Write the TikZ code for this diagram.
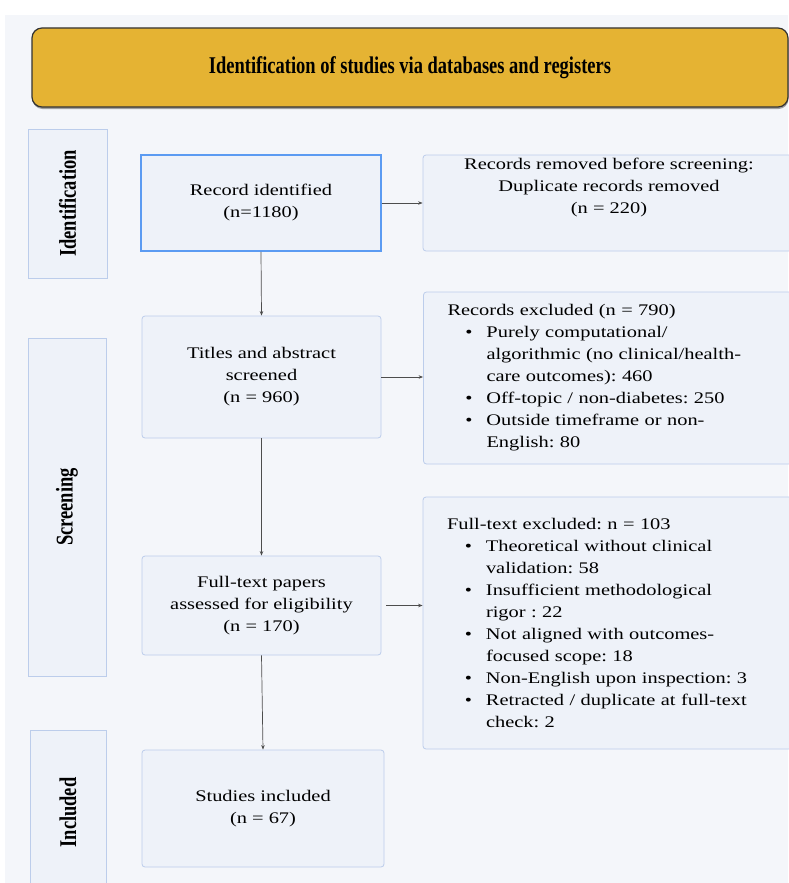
\documentclass[tikz,border=0pt]{standalone}
\usepackage{fontspec}
\setmainfont{Liberation Serif}
\newfontfamily\bodyfont[FakeStretch=1.26]{Liberation Serif}
\newfontfamily\narrowfont[FakeStretch=0.77]{Liberation Serif}
\usepackage{xcolor}
\usetikzlibrary{positioning,arrows.meta,shadows}
\frenchspacing
\definecolor{panel}{HTML}{F4F6FA}
\definecolor{boxfill}{HTML}{EEF2F9}
\definecolor{boxline}{HTML}{BCCDEB}
\definecolor{keyline}{HTML}{5B9BF2}
\definecolor{gold}{HTML}{E5B333}
\definecolor{arrowc}{HTML}{4D4D4D}
\newcommand{\listpt}[1]{\makebox[39pt][r]{\textbullet\hspace{14pt}}#1}
\newcommand{\listcont}[1]{\hspace*{39pt}#1}
\tikzset{
  header/.style={draw=black!80, fill=gold, line width=1.2pt, rounded corners=10pt,
    minimum width=756pt, minimum height=79pt,
    font=\narrowfont\bfseries\fontsize{24}{26}\selectfont,
    drop shadow={shadow xshift=0.5pt, shadow yshift=-2pt, fill=black!60, opacity=0.6}},
  phase/.style={draw=boxline, fill=boxfill, line width=0.8pt, rotate=90,
    font=\narrowfont\bfseries\fontsize{24}{26}\selectfont},
  box/.style={draw=boxline, fill=boxfill, line width=0.8pt, rounded corners=3pt,
    align=center, font=\bodyfont\fontsize{16.2}{22}\selectfont},
  keybox/.style={box, draw=keyline, line width=1.8pt, sharp corners},
  listbox/.style={box, align=left, inner xsep=24pt, text width=324pt},
  lab/.style={inner sep=0pt, align=center, font=\bodyfont\fontsize{16.2}{22}\selectfont},
  arr/.style={draw=arrowc, line width=0.7pt, -{Stealth[length=4.5pt,width=3.5pt]}},
}
\begin{document}
\begin{tikzpicture}[x=1pt,y=-1pt]
  \useasboundingbox (0,0) rectangle (788,883);
  \fill[panel] (5,15) rectangle (788,883);
  % title bar
  \node[header] (head) at (410,67.5) {Identification of studies via databases and registers};
  % phase labels
  \node[phase, minimum width=149pt, minimum height=79pt] (idlab) at (67.5,203.5) {Identification};
  \node[phase, minimum width=338pt, minimum height=78pt] (scrlab) at (67,507) {Screening};
  \node[phase, minimum width=165pt, minimum height=76pt] (inclab) at (68,812.5) {Included};
  % main column
  \node[keybox, minimum width=240pt, minimum height=96pt] (rec) at (261,203) {Record identified\\(n=1180)};
  \node[box, minimum width=239pt, minimum height=122pt] (titles) at (261.5,377) {Titles and abstract\\screened\\(n = 960)};
  \node[box, minimum width=239pt, minimum height=99pt] (full) at (261.5,605.5) {Full-text papers\\assessed for eligibility\\(n = 170)};
  \node[box, minimum width=242pt, minimum height=117pt] (incl) at (263,808.5) {Studies included\\(n = 67)};
  % side column
  \node[box, minimum width=372pt, minimum height=96pt] (removed) at (609,203) {};
  \node[lab, below=3pt of removed.north] (removedtxt) {Records removed before screening:\\Duplicate records removed\\(n = 220)};
  \node[listbox, minimum height=172pt] (excl) at (609.5,378) {Records excluded (n = 790)\\
    \listpt{Purely computational/}\\
    \listcont{algorithmic (no clinical/health-}\\
    \listcont{care outcomes): 460}\\
    \listpt{Off-topic / non-diabetes: 250}\\
    \listpt{Outside timeframe or non-}\\
    \listcont{English: 80}};
  \node[listbox, minimum height=252pt] (ftexcl) at (609,623) {Full-text excluded: n = 103\\
    \listpt{Theoretical without clinical}\\
    \listcont{validation: 58}\\
    \listpt{Insufficient methodological}\\
    \listcont{rigor : 22}\\
    \listpt{Not aligned with outcomes-}\\
    \listcont{focused scope: 18}\\
    \listpt{Non-English upon inspection: 3}\\
    \listpt{Retracted / duplicate at full-text}\\
    \listcont{check: 2}};
  % connectors
  \draw[arr] (rec.east) -- (removed.west |- rec.east);
  \draw[arr] (titles.east) -- (excl.west |- titles.east);
  \draw[arr, shorten <=5pt] (full.east) -- (ftexcl.west |- full.east);
  \draw[arr] (rec.south) -- (titles.north);
  \draw[arr] (titles.south) -- (full.north);
  \draw[arr] (full.south) -- (incl.north);
\end{tikzpicture}
\end{document}
